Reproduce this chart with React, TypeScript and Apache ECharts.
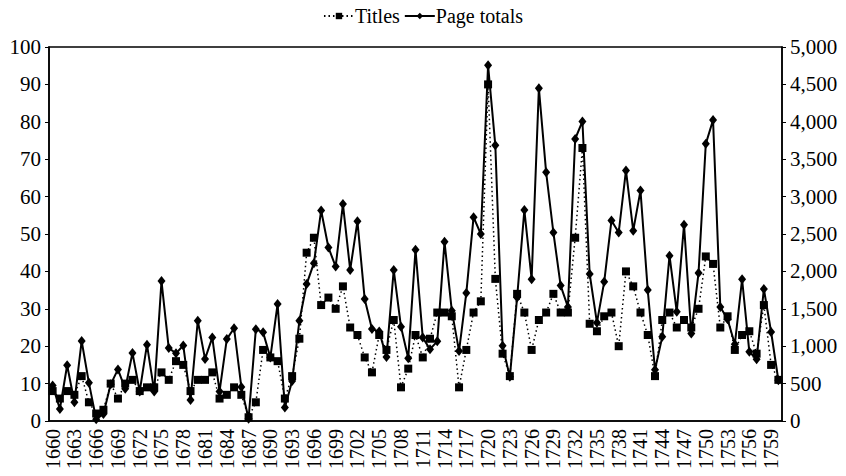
import React, { useEffect, useRef } from "react";
import * as echarts from "echarts";

const years: string[] = [];
for (let y = 1660; y <= 1760; y++) years.push(String(y));

const titles = [
  8, 6, 8, 7, 12, 5, 2, 3, 10, 6,
  10, 11, 8, 9, 9, 13, 11, 16, 15, 8,
  11, 11, 13, 6, 7, 9, 7, 1, 5, 19,
  17, 16, 6, 12, 22, 45, 49, 31, 33, 30,
  36, 25, 23, 17, 13, 23, 19, 27, 9, 14,
  23, 17, 22, 29, 29, 28, 9, 19, 29, 32,
  90, 38, 18, 12, 34, 29, 19, 27, 29, 34,
  29, 29, 49, 73, 26, 24, 28, 29, 20, 40,
  36, 29, 23, 12, 27, 29, 25, 27, 25, 30,
  44, 42, 25, 28, 19, 23, 24, 18, 31, 15,
  11,
];

const pageTotals = [
  475, 160, 745, 250, 1070, 510, 25, 95, 490, 690,
  430, 910, 395, 1020, 395, 1870, 975, 905, 1010, 280,
  1340, 830, 1115, 395, 1095, 1240, 455, 30, 1225, 1185,
  850, 1565, 180, 535, 1340, 1830, 2110, 2815, 2320, 2065,
  2900, 2020, 2670, 1630, 1230, 1195, 855, 2020, 1260, 840,
  2290, 1115, 960, 1065, 2395, 1475, 935, 1710, 2725, 2500,
  4755, 3685, 1005, 590, 1650, 2820, 1895, 4450, 3325, 2520,
  1810, 1525, 3770, 4005, 1965, 1315, 1860, 2680, 2520, 3350,
  2545, 3080, 1750, 685, 1125, 2210, 1460, 2625, 1170, 1980,
  3705, 4025, 1525, 1360, 1025, 1895, 925, 825, 1765, 1190,
  545,
];

const FONT = "'Liberation Serif', 'Times New Roman', serif";

export default function App() {
  const ref = useRef<HTMLDivElement>(null);
  useEffect(() => {
    document.body.style.margin = "0";
    const chart = echarts.init(ref.current!, null, { renderer: "svg" });
    chart.setOption({
      animation: false,
      backgroundColor: "#ffffff",
      textStyle: { fontFamily: FONT, color: "#000" },
      legend: {
        data: ["Titles", "Page totals"],
        top: 1,
        left: "center",
        itemWidth: 30,
        itemHeight: 8,
        itemGap: 4,
        textStyle: { fontFamily: FONT, fontSize: 20, color: "#000", padding: [0, 0, 0, -4] },
      },
      grid: {
        left: 49,
        right: 64,
        top: 47,
        bottom: 55,
        show: true,
        borderColor: "#000",
        borderWidth: 1.5,
        containLabel: false,
        outerBoundsMode: "none",
      },
      xAxis: {
        type: "category",
        data: years,
        boundaryGap: true,
        axisLine: { lineStyle: { color: "#000", width: 1.5 } },
        axisTick: { interval: 0, length: 4, lineStyle: { color: "#000" } },
        axisLabel: {
          interval: 2,
          rotate: 90,
          margin: 8,
          fontFamily: FONT,
          fontSize: 20,
          color: "#000",
          padding: [0, 0, 8, 0],
        },
        splitLine: { show: false },
      },
      yAxis: [
        {
          type: "value",
          min: 0,
          max: 100,
          interval: 10,
          position: "left",
          axisLine: { show: true, lineStyle: { color: "#000", width: 1.5 } },
          axisTick: { show: true, length: 4, lineStyle: { color: "#000" } },
          axisLabel: { fontFamily: FONT, fontSize: 21, color: "#000", margin: 8 },
          splitLine: { show: false },
        },
        {
          type: "value",
          min: 0,
          max: 5000,
          interval: 500,
          position: "right",
          axisLine: { show: true, lineStyle: { color: "#000", width: 1.5 } },
          axisTick: { show: true, length: 4, lineStyle: { color: "#000" } },
          axisLabel: {
            fontFamily: FONT,
            fontSize: 21,
            color: "#000",
            margin: 8,
            formatter: (v: number) => v.toLocaleString("en-US"),
          },
          splitLine: { show: false },
        },
      ],
      series: [
        {
          name: "Page totals",
          type: "line",
          yAxisIndex: 1,
          data: pageTotals,
          symbol: "diamond",
          symbolSize: [8, 10],
          showAllSymbol: true,
          itemStyle: { color: "#000" },
          lineStyle: { color: "#000", width: 2, type: "solid" },
          z: 2,
        },
        {
          name: "Titles",
          type: "line",
          yAxisIndex: 0,
          data: titles,
          symbol: "rect",
          symbolSize: 8,
          showAllSymbol: true,
          itemStyle: { color: "#000" },
          lineStyle: { color: "#000", width: 1.5, type: [1.5, 3] },
          z: 3,
        },
      ],
    });
    return () => chart.dispose();
  }, []);
  return (
    <div
      ref={ref}
      style={{ position: "absolute", left: 0, top: 0, width: 846, height: 476 }}
    />
  );
}
